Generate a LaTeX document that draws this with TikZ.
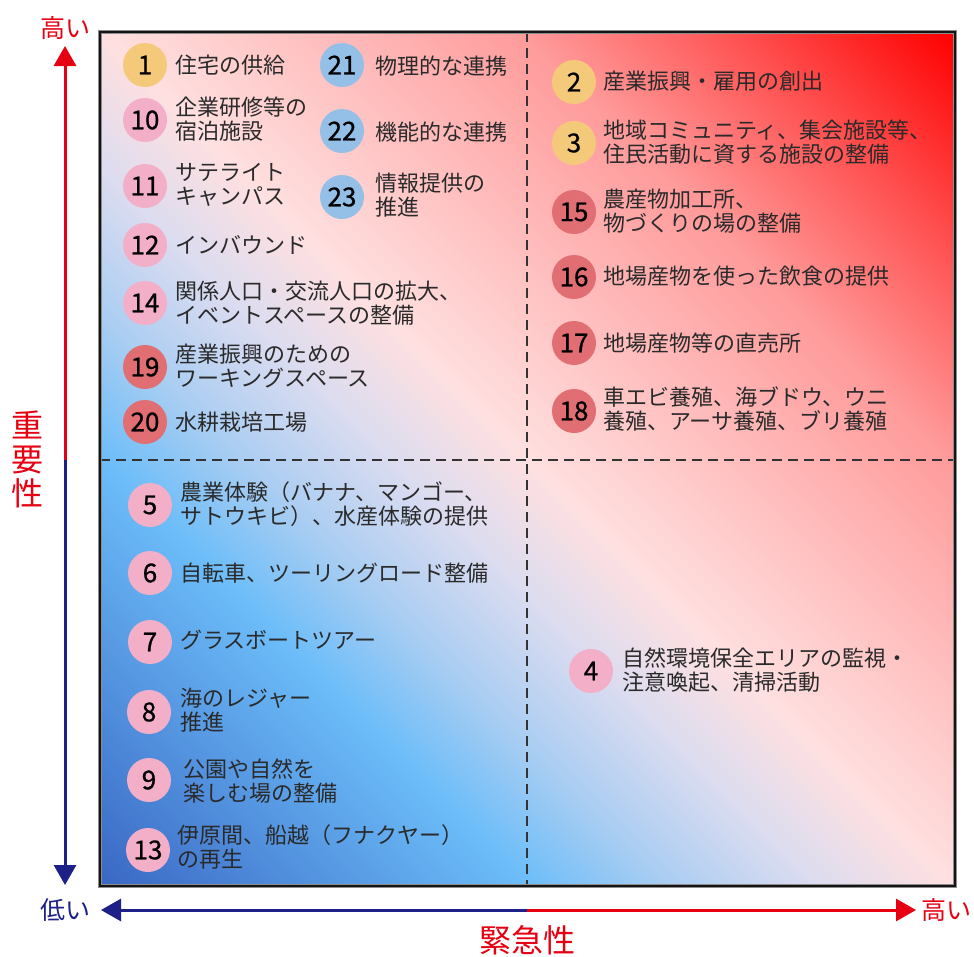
\documentclass[tikz,border=0pt]{standalone}
\usepackage{fontspec}
\setmainfont{Noto Sans CJK JP}
\newfontfamily\numfont[FakeBold=0.8]{Noto Sans CJK JP}
\usetikzlibrary{arrows.meta}
\definecolor{gA}{HTML}{3A68C4}
\definecolor{gB}{HTML}{6CBDF9}
\definecolor{gB2}{HTML}{A8CDF2}
\definecolor{gC}{HTML}{DCDCF0}
\definecolor{gD}{HTML}{FFE0E0}
\definecolor{gE}{HTML}{FF9A9A}
\definecolor{gE2}{HTML}{FF4C4C}
\definecolor{gF}{HTML}{FF0000}
\definecolor{axred}{HTML}{E60012}
\definecolor{axblue}{HTML}{1D2087}
\definecolor{cYel}{HTML}{F5C97A}
\definecolor{cPink}{HTML}{F3AFC8}
\definecolor{cSal}{HTML}{E06E72}
\definecolor{cBlu}{HTML}{94BFE6}
\definecolor{txt}{HTML}{2A2A2A}
\pgfdeclareverticalshading{quadgrad}{100bp}{%
  color(0bp)=(gA); color(14.64bp)=(gA); color(32.32bp)=(gB); color(37.97bp)=(gB2);
  color(44.34bp)=(gC); color(50bp)=(gD); color(67.68bp)=(gE); color(76.9bp)=(gE2);
  color(85.36bp)=(gF); color(100bp)=(gF)}
\tikzset{
  lbl/.style={anchor=west, inner sep=0pt, align=left, text=txt, font=\fontsize{22}{24}\selectfont},
  num/.style={circle, inner sep=0pt, minimum size=44pt, text=black, font=\numfont\fontsize{26}{26}\selectfont},
  ny/.style={num, fill=cYel},
  np/.style={num, fill=cPink},
  ns/.style={num, fill=cSal},
  nb/.style={num, fill=cBlu},
  midline/.style={draw=black!80, line width=1.6pt, dash pattern=on 10pt off 6pt},
  axtip/.style={-{Triangle[width=22pt,length=20pt]}, line width=3pt},
  axlbl/.style={inner sep=0pt, font=\fontsize{25}{25}\selectfont},
  axtitle/.style={inner sep=0pt, text=axred, align=center, font=\fontsize{32}{34}\selectfont}
}
\begin{document}
\begin{tikzpicture}[x=1pt,y=-1pt]
\useasboundingbox (0,0) rectangle (974,956);
% background gradient
\shade[shading=quadgrad, shading angle=-45] (100,32) rectangle (955,886);
% quadrant lines
\draw[midline] (527,32) -- (527,886);
\draw[midline] (100,460) -- (955,460);
% frame
\draw[line width=4.5pt, draw=black!45] (100,32) rectangle (955,886);
\draw[line width=2.6pt, draw=black!92] (100,32) rectangle (955,886);
% axes
\coordinate (ytop) at (65,46);
\coordinate (ymid) at (65,460);
\coordinate (ybot) at (65,885);
\coordinate (xl) at (101,910);
\coordinate (xm) at (527,910);
\coordinate (xr) at (916,910);
\draw[axtip, draw=axred, fill=axred] (ymid) -- (ytop);
\draw[axtip, draw=axblue, fill=axblue] (ymid) -- (ybot);
\draw[axtip, draw=axblue, fill=axblue] (xm) -- (xl);
\draw[axtip, draw=axred, fill=axred] (xm) -- (xr);
\node[axlbl, text=axred] (yhi) at (65,28) {高い};
\node[axlbl, text=axblue] (xlo) at (65,910) {低い};
\node[axlbl, text=axred] (xhi) at (946,910) {高い};
\node[axtitle] (ytitle) at (28,459) {重\\要\\性};
\node[axtitle] (xtitle) at (527,940) {緊急性};
% top-left quadrant, column 1
\node[ny] (n1) at (145,65) {1};
\node[lbl] (t1) at (175,65) {住宅の供給};
\node[np] (n10) at (145,120) {10};
\node[lbl] (t10) at (175,119) {企業研修等の\\宿泊施設};
\node[np] (n11) at (145,186) {11};
\node[lbl] (t11) at (175,185) {サテライト\\キャンパス};
\node[np] (n12) at (145,245) {12};
\node[lbl] (t12) at (175,245) {インバウンド};
\node[np] (n14) at (145,303) {14};
\node[lbl] (t14) at (175,303) {関係人口・交流人口の拡大、\\イベントスペースの整備};
\node[ns] (n19) at (145,367) {19};
\node[lbl] (t19) at (175,366) {産業振興のための\\ワーキングスペース};
\node[ns] (n20) at (145,422) {20};
\node[lbl] (t20) at (175,422) {水耕栽培工場};
% top-left quadrant, column 2
\node[nb] (n21) at (342,65) {21};
\node[lbl] (t21) at (375,66) {物理的な連携};
\node[nb] (n22) at (342,131) {22};
\node[lbl] (t22) at (375,132) {機能的な連携};
\node[nb] (n23) at (342,197) {23};
\node[lbl] (t23) at (375,195) {情報提供の\\推進};
% top-right quadrant
\node[ny] (n2) at (574,82) {2};
\node[lbl] (t2) at (603,81) {産業振興・雇用の創出};
\node[ny] (n3) at (574,143) {3};
\node[lbl] (t3) at (603,142) {地域コミュニティ、集会施設等、\\住民活動に資する施設の整備};
\node[ns] (n15) at (574,212) {15};
\node[lbl] (t15) at (603,211) {農産物加工所、\\物づくりの場の整備};
\node[ns] (n16) at (574,277) {16};
\node[lbl] (t16) at (603,276) {地場産物を使った飲食の提供};
\node[ns] (n17) at (574,343) {17};
\node[lbl] (t17) at (603,343) {地場産物等の直売所};
\node[ns] (n18) at (574,411) {18};
\node[lbl] (t18) at (603,409) {車エビ養殖、海ブドウ、ウニ\\養殖、アーサ養殖、ブリ養殖};
% bottom-left quadrant
\node[np] (n5) at (150,505) {5};
\node[lbl] (t5) at (180,504) {農業体験（バナナ、マンゴー、\\サトウキビ）、水産体験の提供};
\node[np] (n6) at (150,573) {6};
\node[lbl] (t6) at (180,573) {自転車、ツーリングロード整備};
\node[np] (n7) at (150,642) {7};
\node[lbl] (t7) at (180,640) {グラスボートツアー};
\node[np] (n8) at (149,712) {8};
\node[lbl] (t8) at (180,710) {海のレジャー\\推進};
\node[np] (n9) at (149,780) {9};
\node[lbl] (t9) at (183,781) {公園や自然を\\楽しむ場の整備};
\node[np] (n13) at (148,850) {13};
\node[lbl] (t13) at (177,847) {伊原間、船越（フナクヤー）\\の再生};
% bottom-right quadrant
\node[np] (n4) at (591,671) {4};
\node[lbl] (t4) at (622,670) {自然環境保全エリアの監視・\\注意喚起、清掃活動};
\end{tikzpicture}
\end{document}
